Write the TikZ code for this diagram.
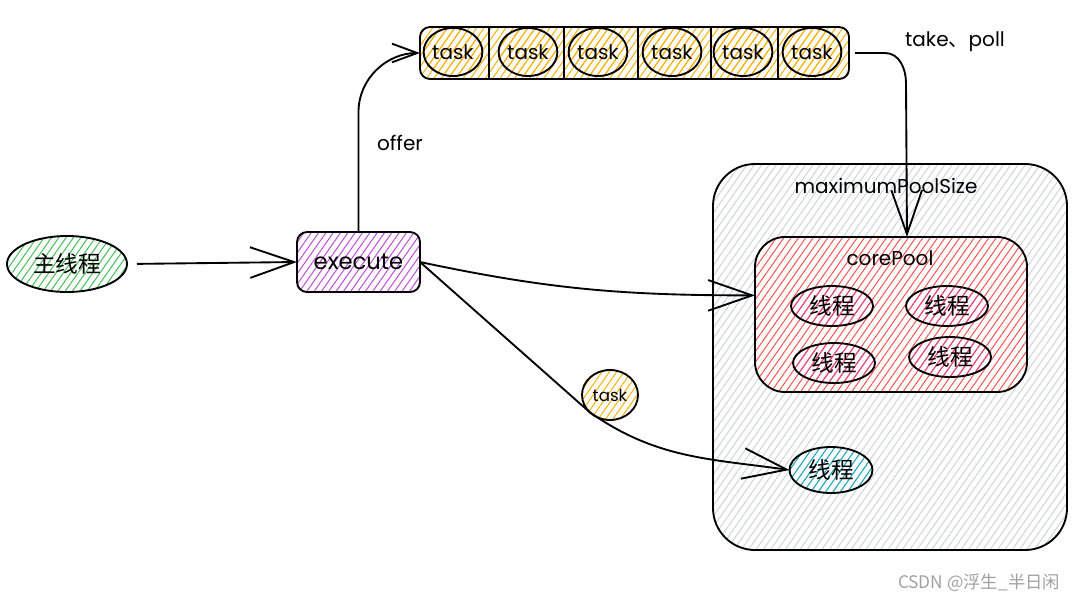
\documentclass[tikz,border=0pt]{standalone}
\usepackage{fontspec}
\setmainfont{Poppins}
\newfontfamily\cjk{Noto Sans CJK SC}
\usetikzlibrary{shapes.geometric,arrows.meta,patterns.meta,calc}
\definecolor{hgreen}{HTML}{40C057}
\definecolor{hpurple}{HTML}{BE4BDB}
\definecolor{hyellow}{HTML}{FAB005}
\definecolor{hgray}{HTML}{CED4DA}
\definecolor{hred}{HTML}{FA5252}
\definecolor{hpink}{HTML}{E64980}
\definecolor{hcyan}{HTML}{15AABF}
\definecolor{wmgray}{HTML}{A0A0A0}
\begin{document}
\begin{tikzpicture}[x=0.75pt,y=-0.75pt,
  every node/.style={inner sep=0pt, outer sep=0pt},
  edge/.style={line width=1.4pt, draw=black},
  hatch/.style={draw=black, line width=1.4pt, pattern={Lines[angle=55,distance=4.5pt,line width=0.75pt]}, pattern color=#1},
  blob/.style={ellipse, hatch=#1},
  box/.style={rectangle, hatch=#1},
  cn/.style={font=\cjk\fontsize{17pt}{20pt}\selectfont},
  lt/.style={font=\fontsize{15pt}{18pt}\selectfont},
  tasktxt/.style={font=\fontsize{15pt}{17pt}\selectfont},
  bigtip/.style={-{Straight Barb[length=33pt,width=23pt]}},
  smalltip/.style={-{Straight Barb[length=19pt,width=14pt]}},
]
\useasboundingbox (0,0) rectangle (1085,604);

% thread pool boxes
\node[box=hgray, minimum width=265.5pt, minimum height=289.5pt, rounded corners=31.5pt] (maxp) at (890,357) {};
\node[box=hred, preaction={fill=white}, minimum width=204pt, minimum height=116.25pt, rounded corners=22.5pt] (core) at (891,314.5) {};
\node[lt] (lmax) at (886,186) {maximumPoolSize};
\node[lt] (lcore) at (890,258) {corePool};

\node[blob=hpink, minimum width=61.5pt, minimum height=30pt, cn] (t1) at (832,306) {线程};
\node[blob=hpink, minimum width=61.5pt, minimum height=30pt, cn] (t2) at (947,306) {线程};
\node[blob=hpink, minimum width=61.5pt, minimum height=30pt, cn] (t3) at (834,363) {线程};
\node[blob=hpink, minimum width=61.5pt, minimum height=30pt, cn] (t4) at (950,357) {线程};
\node[blob=hcyan, minimum width=62.25pt, minimum height=34.5pt, cn] (blue) at (831,470) {线程};

% main thread and execute
\node[blob=hgreen, minimum width=90pt, minimum height=42pt, cn] (main) at (67,264) {主线程};
\node[box=hpurple, minimum width=92.25pt, minimum height=45pt, rounded corners=7.5pt, font=\fontsize{17pt}{20pt}\selectfont] (exec) at (358.5,262) {execute};

% queue
\node[box=hyellow, minimum width=321.75pt, minimum height=39pt, rounded corners=7.5pt] (queue) at (634.5,53) {};
\foreach \x in {489,564,638,711,778} \draw[line width=1.4pt] (\x,27) -- (\x,79);
\foreach \x/\n in {453/1,528/2,598/3,672/4,743/5,812/6}
  \node[blob=hyellow, minimum width=39pt, minimum height=36pt, tasktxt] (q\n) at (\x,52) {task};

% small task
\node[blob=hyellow, minimum width=42pt, minimum height=37.5pt, font=\fontsize{12.5pt}{14pt}\selectfont] (stask) at (610,395) {task};

% labels
\node[lt] (loffer) at (400,143) {offer};
\node[lt] (ltake) at (955,42) {take{\cjk 、}poll};

% connectors
\draw[edge,bigtip,shorten <=7.5pt] (main.east) -- (exec.west);
\draw[edge,smalltip] (exec.north) -- ++(0,-120) to[out=90,in=180] (queue.west);
\draw[edge,bigtip] ($(queue.east)+(6,0)$) -- ++(30,0) to[out=0,in=90] ++(21,30) -- ($(core.north)+(16,0)$);
\draw[edge,bigtip] (exec.east) to[out=-12,in=180] (core.172);
\draw[edge,bigtip] (exec.east) -- (stask.220) to[out=-35,in=172] (blue.west);

% watermark
\node[font=\cjk\fontsize{13pt}{15pt}\selectfont, text=wmgray] (wm) at (979,583) {CSDN @浮生\_半日闲};
\end{tikzpicture}
\end{document}
